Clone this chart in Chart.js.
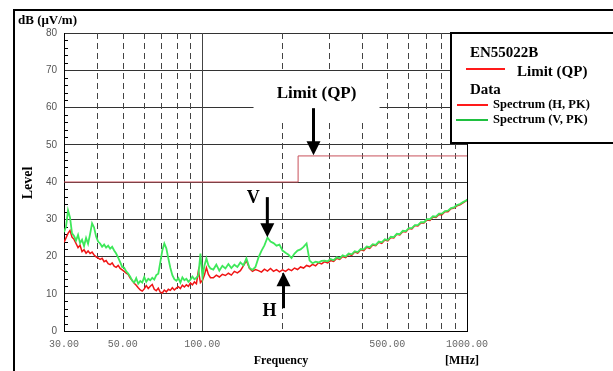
<!DOCTYPE html>
<html>
<head>
<meta charset="utf-8">
<script src="https://cdn.jsdelivr.net/npm/chart.js@4.4.1/dist/chart.umd.min.js"></script>
<style>
  html, body { margin: 0; padding: 0; background: #fff; }
  #wrap { position: relative; width: 613px; height: 371px; }
</style>
</head>
<body>
<div id="wrap"><canvas id="emi"></canvas></div>
<script>
// frequencies of the sweep, MHz
const freqMHz = [
  30.00, 30.53, 31.07, 31.61, 32.17, 32.74, 33.31, 33.90, 34.50, 35.10,
  35.72, 36.35, 36.99, 37.64, 38.30, 38.98, 39.66, 40.36, 41.07, 41.80,
  42.53, 43.28, 44.05, 44.82, 45.61, 46.41, 47.23, 48.06, 48.91, 49.77,
  50.65, 51.54, 52.45, 53.37, 54.31, 55.27, 56.24, 57.23, 58.24, 59.26,
  60.31, 61.37, 62.45, 63.55, 64.67, 65.81, 66.97, 68.15, 69.35, 70.57,
  71.81, 73.08, 74.36, 75.67, 77.01, 78.36, 79.74, 81.15, 82.58, 84.03,
  85.51, 87.02, 88.55, 90.11, 91.70, 93.32, 94.96, 96.63, 98.33, 100.1,
  101.8, 103.6, 105.4, 107.3,
  110.0, 112.9, 115.9, 119.0, 122.2, 125.4, 128.7, 132.1, 135.6, 139.2,
  142.9, 146.7, 150.6, 154.6, 158.7, 162.9, 167.2, 171.6, 176.2, 180.9,
  185.7, 190.6, 195.6, 200.8, 206.2, 211.6, 217.2, 223.0, 228.9, 235.0,
  241.2, 247.6, 254.2, 260.9, 267.8, 274.9, 282.2, 289.7, 297.4, 305.3,
  313.4, 321.7, 330.2, 339.0, 348.0, 357.2, 366.7, 376.4, 386.4, 396.6,
  407.1, 417.9, 429.0, 440.4, 452.1, 464.1, 476.4, 489.0, 502.0, 515.3,
  529.0, 543.0, 557.4, 572.2, 587.4, 603.0, 619.0, 635.4, 652.2, 669.5,
  687.3, 705.5, 724.2, 743.4, 763.1, 783.3, 804.1, 825.4, 847.3, 869.8,
  892.9, 916.6, 940.9, 965.8, 991.4, 1000
];

// Spectrum (H, PK), dB(uV/m)
const levelH = [
  23.8, 25.0, 26.2, 27.0, 25.2, 24.6, 23.5, 22.4, 23.0, 21.3,
  21.8, 20.9, 21.5, 20.8, 21.2, 20.4, 19.9, 19.6, 19.2, 19.5,
  18.6, 18.9, 18.1, 17.8, 18.3, 17.4, 17.1, 17.6, 16.8, 16.4,
  16.0, 15.5, 15.2, 14.2, 13.6, 12.8, 12.3, 11.6, 11.0, 10.7,
  11.3, 12.2, 11.4, 12.0, 12.5, 11.2, 10.8, 11.5, 10.4, 10.2,
  11.0, 10.5, 11.2, 10.9, 11.6, 11.0, 11.5, 11.9, 11.4, 12.3,
  11.8, 12.4, 12.0, 12.9, 12.4, 13.2, 12.7, 16.2, 13.0, 13.6,
  15.0, 17.0, 15.2, 14.3,
  14.3, 15.0, 14.5, 15.2, 14.9, 15.5, 15.0, 16.0, 15.6, 16.2,
  17.5, 18.9, 16.8, 16.0, 16.5, 16.2, 15.8, 16.6, 16.1, 16.8,
  16.0, 16.5, 15.9, 16.4, 16.0, 16.6, 16.2, 16.9, 16.5, 17.2,
  16.9, 17.6, 17.3, 17.9, 17.5, 18.3, 18.0, 18.6, 18.3, 18.9,
  18.7, 19.5, 19.2, 20.0, 19.7, 20.6, 20.3, 21.2, 20.9, 21.8,
  21.6, 22.5, 22.2, 23.1, 22.9, 23.8, 23.5, 24.4, 24.2, 25.1,
  25.0, 26.0, 25.8, 26.7, 26.6, 27.5, 27.4, 28.3, 28.2, 29.0,
  29.0, 29.8, 29.7, 30.6, 30.5, 31.3, 31.2, 32.0, 32.0, 32.8,
  33.0, 33.6, 33.9, 34.4, 34.9, 35.2
];

// Spectrum (V, PK), dB(uV/m)
const levelV = [
  26.5, 28.0, 32.4, 30.5, 26.2, 25.5, 24.3, 25.8, 23.6, 24.5,
  22.8, 25.0, 23.4, 26.0, 28.9, 27.8, 25.4, 24.0, 23.5, 22.6,
  23.2, 22.4, 22.9, 22.1, 22.6, 21.6, 20.8, 19.7, 18.5, 17.2,
  17.0, 16.0, 15.4, 14.6, 13.5, 13.0, 14.2, 12.7, 13.4, 13.0,
  14.5, 13.2, 14.0, 13.6, 14.3, 13.8, 15.0, 15.4, 18.5, 21.6,
  23.5, 22.2, 19.5, 17.0, 15.0, 13.9, 13.5, 14.2, 13.0, 14.4,
  13.6, 14.0, 13.2, 13.8, 14.6, 13.9, 14.3, 15.0, 20.8, 14.5,
  17.5, 19.5, 17.6, 16.8,
  16.5, 17.8, 16.2, 17.5, 16.8, 18.0, 16.9, 17.8, 17.2, 18.4,
  17.6, 19.5, 17.0, 16.4, 17.2, 19.7, 21.5, 23.0, 25.1, 24.0,
  23.6, 22.9, 23.2, 21.6, 21.0, 20.5, 19.6, 20.8, 21.6, 21.9,
  22.6, 23.5, 18.9, 18.2, 18.6, 18.4, 18.8, 18.9, 18.7, 19.3,
  19.0, 19.8, 19.5, 20.3, 20.0, 20.8, 20.6, 21.4, 21.2, 22.0,
  21.9, 22.7, 22.5, 23.3, 23.1, 24.0, 23.8, 24.6, 24.4, 25.3,
  25.2, 26.1, 26.0, 26.9, 26.8, 27.6, 27.6, 28.4, 28.4, 29.2,
  29.2, 30.0, 30.0, 30.8, 30.7, 31.5, 31.5, 32.2, 32.3, 33.0,
  33.2, 33.8, 34.1, 34.6, 35.0, 35.4
];

// EN55022B limit (QP)
const limitFreq = [30, 230, 230, 1000];
const limitLevel = [40, 40, 47, 47];

const xTickValues = [30, 50, 100, 500, 1000];
const xGridValues = [40, 50, 60, 70, 80, 90, 100, 200, 300, 400, 500, 600, 700, 800, 900];

const serif = '"Liberation Serif", "Times New Roman", serif';

function pts(xs, ys) {
  return xs.map((f, i) => ({ x: f, y: ys[i] }));
}

function arrow(ctx, x, yTip, len, dir) {
  // dir = 1 pointing down, -1 pointing up
  const head = 14;
  ctx.lineWidth = 3;
  ctx.beginPath();
  ctx.moveTo(x, yTip - dir * len);
  ctx.lineTo(x, yTip - dir * (head - 2));
  ctx.stroke();
  ctx.beginPath();
  ctx.moveTo(x, yTip);
  ctx.lineTo(x - 7, yTip - dir * head);
  ctx.lineTo(x + 7, yTip - dir * head);
  ctx.closePath();
  ctx.fill();
}

const decorations = {
  id: 'decorations',
  beforeDatasetsDraw(chart) {
    const { ctx, chartArea: a, scales: { x, y } } = chart;
    ctx.save();
    ctx.lineWidth = 1;
    ctx.strokeStyle = '#444';
    xGridValues.forEach(v => {
      const px = Math.round(x.getPixelForValue(v)) + 0.5;
      ctx.setLineDash(v === 100 ? [] : [6, 4]);
      ctx.beginPath();
      ctx.moveTo(px, a.top);
      ctx.lineTo(px, a.bottom);
      ctx.stroke();
    });
    ctx.setLineDash([]);
    ctx.strokeStyle = '#000';
    for (let v = 2; v < 80; v += 2) {
      if (v % 10 === 0) continue;
      const py = Math.round(y.getPixelForValue(v)) + 0.5;
      ctx.beginPath();
      ctx.moveTo(a.left, py);
      ctx.lineTo(a.left + 4, py);
      ctx.stroke();
    }
    // right border of the plot
    ctx.beginPath();
    ctx.moveTo(a.right + 0.5, a.top);
    ctx.lineTo(a.right + 0.5, a.bottom);
    ctx.stroke();

    // "Limit (QP)" call-out with white backing
    const lx = x.getPixelForValue(270), ly = y.getPixelForValue(63.6);
    ctx.fillStyle = '#fff';
    ctx.fillRect(lx - 63, ly - 22, 126, 50);
    ctx.fillStyle = '#000';
    ctx.font = 'bold 17px ' + serif;
    ctx.textAlign = 'center';
    ctx.textBaseline = 'middle';
    ctx.fillText('Limit (QP)', lx, ly);
    ctx.restore();
  },
  afterDraw(chart) {
    const { ctx, scales: { x, y } } = chart;
    ctx.save();
    ctx.fillStyle = '#000';
    ctx.strokeStyle = '#000';

    // arrows
    arrow(ctx, x.getPixelForValue(263), y.getPixelForValue(47.2), 47, 1);
    const vx = x.getPixelForValue(176), vy = y.getPixelForValue(25.2);
    arrow(ctx, vx, vy, 40, 1);
    const hx = x.getPixelForValue(202.6), hy = y.getPixelForValue(15.8);
    arrow(ctx, hx, hy, 36, -1);
    ctx.font = 'bold 18px ' + serif;
    ctx.textAlign = 'center';
    ctx.textBaseline = 'middle';
    ctx.fillText('V', vx - 14, vy - 39);
    ctx.fillText('H', hx - 14, hy + 39);

    // outer frame
    ctx.lineWidth = 2;
    ctx.beginPath();
    ctx.moveTo(14, 371);
    ctx.lineTo(14, 10);
    ctx.lineTo(613, 10);
    ctx.stroke();

    // axis titles
    ctx.textAlign = 'left';
    ctx.font = 'bold 13px ' + serif;
    ctx.fillText('dB (\u03bcV/m)', 18, 21);
    ctx.font = 'bold 12px ' + serif;
    ctx.textAlign = 'center';
    ctx.fillText('Frequency', 281, 361);
    ctx.fillText('[MHz]', 462, 361);
    ctx.save();
    ctx.translate(28, 183);
    ctx.rotate(-Math.PI / 2);
    ctx.font = 'bold 14px ' + serif;
    ctx.fillText('Level', 0, 0);
    ctx.restore();

    // legend box
    ctx.fillStyle = '#fff';
    ctx.fillRect(451, 33, 170, 110);
    ctx.lineWidth = 2;
    ctx.strokeRect(451, 33, 170, 110);
    ctx.fillStyle = '#000';
    ctx.textAlign = 'left';
    ctx.textBaseline = 'middle';
    ctx.font = 'bold 15px ' + serif;
    ctx.fillText('EN55022B', 470, 53);
    ctx.fillText('Limit (QP)', 517, 72);
    ctx.fillText('Data', 470, 90);
    ctx.font = 'bold 12.5px ' + serif;
    ctx.fillText('Spectrum (H, PK)', 493, 105);
    ctx.fillText('Spectrum (V, PK)', 493, 120);
    ctx.lineWidth = 2;
    ctx.strokeStyle = '#ff1a1a';
    ctx.beginPath(); ctx.moveTo(466, 69); ctx.lineTo(505, 69); ctx.stroke();
    ctx.beginPath(); ctx.moveTo(457, 105); ctx.lineTo(488, 105); ctx.stroke();
    ctx.strokeStyle = '#1fc040';
    ctx.beginPath(); ctx.moveTo(456, 120); ctx.lineTo(488, 120); ctx.stroke();
    ctx.restore();
  }
};

new Chart(document.getElementById('emi'), {
  type: 'line',
  data: {
    datasets: [{
      label: 'Spectrum (V, PK)',
      data: pts(freqMHz, levelV),
      borderColor: '#3ee85a',
      borderWidth: 1.8,
      pointRadius: 0,
      order: 0
    }, {
      label: 'Spectrum (H, PK)',
      data: pts(freqMHz, levelH),
      borderColor: '#f01414',
      borderWidth: 1.5,
      pointRadius: 0,
      order: 1
    }, {
      label: 'Limit (QP)',
      data: pts(limitFreq, limitLevel),
      borderColor: '#c8505a',
      borderWidth: 1,
      pointRadius: 0,
      order: 2
    }]
  },
  options: {
    responsive: true,
    maintainAspectRatio: false,
    animation: false,
    layout: { padding: { left: 0, top: 33, right: 146, bottom: 0 } },
    plugins: {
      legend: { display: false },
      tooltip: { enabled: false }
    },
    scales: {
      x: {
        type: 'logarithmic',
        min: 30,
        max: 1000,
        grid: { display: false, drawTicks: false },
        border: { color: '#000', width: 1 },
        afterBuildTicks: s => { s.ticks = xTickValues.map(v => ({ value: v })); },
        afterFit: s => { s.height = 40; },
        ticks: {
          autoSkip: false,
          maxRotation: 0,
          minRotation: 0,
          padding: 7,
          color: '#666',
          font: { family: '"Liberation Mono", "DejaVu Sans Mono", monospace', size: 10 },
          callback: v => Number(v).toFixed(2)
        }
      },
      y: {
        min: 0,
        max: 80,
        grid: { color: '#333', lineWidth: 1, drawTicks: false },
        border: { color: '#000', width: 1 },
        afterFit: s => { s.width = 64; },
        ticks: {
          stepSize: 10,
          padding: 7,
          color: '#555',
          font: { family: '"Liberation Sans", Arial, sans-serif', size: 10 }
        }
      }
    }
  },
  plugins: [decorations]
});
</script>
</body>
</html>
